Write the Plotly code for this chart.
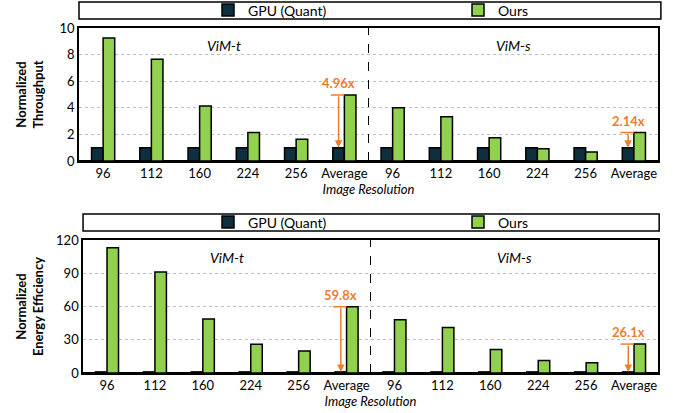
import plotly.graph_objects as go
from plotly.subplots import make_subplots

resolutions = ["96", "112", "160", "224", "256", "Average"]
models = ["ViM-t", "ViM-s"]
tick_labels = resolutions + resolutions

thr_gpu = [1, 1, 1, 1, 1, 1, 1, 1, 1, 1, 1, 1]
thr_ours = [9.25, 7.65, 4.13, 2.15, 1.63, 4.96, 4.0, 3.33, 1.75, 0.93, 0.68, 2.14]
ee_gpu = [1, 1, 1, 1, 1, 1, 1, 1, 1, 1, 1, 1]
ee_ours = [113, 91.2, 48.7, 25.9, 19.9, 59.8, 48.0, 41.0, 21.2, 11.3, 9.2, 26.1]
thr_labels = ["4.96x", "2.14x"]
ee_labels = ["59.8x", "26.1x"]

GPU_C = "#0E2F3E"
OURS_C = "#92D050"
ORANGE = "#ED7D31"
FONT = "Lato"
BARGAP = 0.52
bar_w = (1 - BARGAP) / 2

xs = list(range(len(tick_labels)))

fig = make_subplots(rows=2, cols=1)

def add_panel(row, gpu, ours, legend_name):
    fig.add_trace(go.Bar(x=xs, y=gpu, name="GPU (Quant)", marker=dict(color=GPU_C, line=dict(color="black", width=1.5)),
                         legend=legend_name), row=row, col=1)
    fig.add_trace(go.Bar(x=xs, y=ours, name="Ours", marker=dict(color=OURS_C, line=dict(color="black", width=1.5)),
                         legend=legend_name), row=row, col=1)

add_panel(1, thr_gpu, thr_ours, "legend")
add_panel(2, ee_gpu, ee_ours, "legend2")

W, H = 673, 413
L, R = 79, 15
def py(px):
    return 1 - px / H

LEG_X = (208 - L) / (W - L - R)

fig.update_layout(
    width=W, height=H, margin=dict(l=L, r=R, t=0, b=0, autoexpand=False),
    barmode="group", bargap=BARGAP, bargroupgap=0,
    plot_bgcolor="white", paper_bgcolor="white",
    font=dict(family=FONT, size=13, color="black"),
    xaxis=dict(domain=[0, 1], anchor="y"),
    xaxis2=dict(domain=[0.007, 1], anchor="y2"),
    yaxis=dict(domain=[py(161), py(28)], anchor="x"),
    yaxis2=dict(domain=[py(373), py(240)], anchor="x2"),
    legend=dict(orientation="h", x=LEG_X, xanchor="left", y=py(10.5), yanchor="middle",
                font=dict(size=14), entrywidth=205, entrywidthmode="pixels", bgcolor="rgba(0,0,0,0)"),
    legend2=dict(orientation="h", x=LEG_X, xanchor="left", y=py(222.5), yanchor="middle",
                 font=dict(size=14), entrywidth=205, entrywidthmode="pixels", bgcolor="rgba(0,0,0,0)"),
)

for ax in ["xaxis", "xaxis2"]:
    fig.layout[ax].update(tickmode="array", tickvals=xs, ticktext=tick_labels, range=[-0.5, len(xs) - 0.5],
                          showline=True, mirror=True, linecolor="black", linewidth=1.5, ticks="",
                          tickfont=dict(size=13), automargin=False,
                          title=dict(text="<i>Image Resolution</i>", font=dict(size=13), standoff=1))

fig.layout.yaxis.update(range=[0, 10], dtick=2, showline=True, mirror=True, linecolor="black", linewidth=1.5,
                        showgrid=True, gridcolor="#BFBFBF", griddash="dot", gridwidth=1, automargin=False,
                        zeroline=True, zerolinecolor="black", zerolinewidth=2,
                        title=dict(text="<b>Normalized<br>Throughput</b>", font=dict(size=13), standoff=13))
fig.layout.yaxis2.update(range=[0, 120], dtick=30, showline=True, mirror=True, linecolor="black", linewidth=1.5,
                         showgrid=True, gridcolor="#BFBFBF", griddash="dot", gridwidth=1, automargin=False,
                         zeroline=True, zerolinecolor="black", zerolinewidth=2,
                         title=dict(text="<b>Normalized<br>Energy Efficiency</b>", font=dict(size=13), standoff=10))

shapes = []
anns = []
# legend boxes
shapes.append(dict(type="rect", xref="paper", yref="paper", x0=0, x1=1.005, y0=py(19), y1=py(2),
                   line=dict(color="black", width=1.5)))
shapes.append(dict(type="rect", xref="paper", yref="paper", x0=0.007, x1=1.002, y0=py(231), y1=py(214),
                   line=dict(color="black", width=1.5)))

n_per = len(resolutions)
for k, (xr, yr, gpu, ours, labels) in enumerate([("x", "y", thr_gpu, thr_ours, thr_labels),
                                                  ("x2", "y2", ee_gpu, ee_ours, ee_labels)]):
    # divider
    shapes.append(dict(type="line", xref=xr, yref=yr + " domain", x0=n_per - 0.5, x1=n_per - 0.5, y0=0, y1=1,
                       line=dict(color="black", width=1, dash="dash")))
    for m, model in enumerate(models):
        center = m * n_per + (n_per - 1) / 2
        anns.append(dict(xref=xr, yref=yr + " domain", x=center, y=0.87, yanchor="middle",
                         text="<i>" + model + "</i>", showarrow=False, font=dict(size=14)))
        avg = m * n_per + n_per - 1
        ax_x = avg - bar_w / 2
        shapes.append(dict(type="line", xref=xr, yref=yr, x0=avg - bar_w - 0.04, x1=avg, y0=ours[avg], y1=ours[avg],
                           line=dict(color=ORANGE, width=1.5)))
        anns.append(dict(xref=xr, yref=yr, axref=xr, ayref=yr, x=ax_x, y=gpu[avg], ax=ax_x, ay=ours[avg],
                         text="", showarrow=True, arrowhead=2, arrowsize=1, arrowwidth=1.5, arrowcolor=ORANGE,
                         standoff=0, startstandoff=0))
        anns.append(dict(xref=xr, yref=yr, x=ax_x, y=ours[avg], text="<b>" + labels[m] + "</b>",
                         showarrow=False, yanchor="bottom", yshift=2, font=dict(size=13, color=ORANGE)))

fig.update_layout(shapes=shapes, annotations=anns)
fig.write_html("out.html", config={"displayModeBar": False},
               post_script="document.body.style.margin='0';document.body.style.padding='0';")
